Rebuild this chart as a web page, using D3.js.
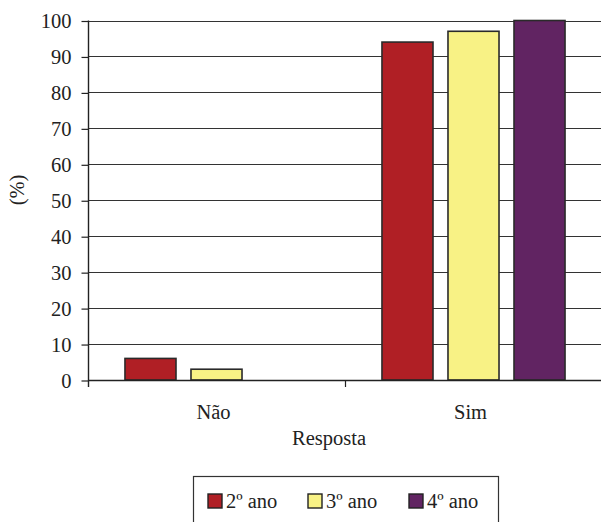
<!DOCTYPE html>
<html>
<head>
<meta charset="utf-8">
<script src="https://cdn.jsdelivr.net/npm/d3@7"></script>
<style>
  html, body { margin: 0; padding: 0; background: #fff; }
  svg { display: block; }
  svg text { font-family: "Liberation Serif", "Times New Roman", Times, serif; }
</style>
</head>
<body>
<svg id="chart" width="601" height="522" font-family="Liberation Serif" font-size="20.5"></svg>
<script>
// Respostas (%) por ano
const categories = ["Não", "Sim"];
const seriesNames = ["2º ano", "3º ano", "4º ano"];
const seriesColors = ["#B01F25", "#F8F285", "#612462"];
const values2 = [6, 94];
const values3 = [3, 97];
const values4 = [0, 100];
const yTicks = [0, 10, 20, 30, 40, 50, 60, 70, 80, 90, 100];

const seriesValues = [values2, values3, values4];
const FS = 20.5;

const svg = d3.select("#chart");
const margin = { left: 88, right: 602, top: 20.5, bottom: 380 };

const x = d3.scaleBand().domain(categories).range([margin.left, margin.right]).paddingInner(0).paddingOuter(0);
const xInner = d3.scaleBand().domain(seriesNames).range([0, x.bandwidth()]).paddingInner(0.227).paddingOuter(0.56);
const y = d3.scaleLinear().domain([0, 100]).range([margin.bottom, margin.top]);

function serif(sel) {
  return sel.attr("fill", "#222").attr("font-family", "Liberation Serif").attr("font-size", FS);
}

// Horizontal gridlines
svg.append("g")
  .selectAll("line")
  .data(yTicks)
  .join("line")
  .attr("x1", margin.left).attr("x2", 601)
  .attr("y1", d => Math.round(y(d)) + 0.5).attr("y2", d => Math.round(y(d)) + 0.5)
  .attr("stroke", "#333").attr("stroke-width", 1.2);

// Bars
const groups = svg.append("g")
  .selectAll("g")
  .data(categories)
  .join("g")
  .attr("transform", d => `translate(${x(d)},0)`);

groups.selectAll("rect")
  .data((c, ci) => seriesNames.map((s, si) => ({ s, si, v: seriesValues[si][ci] })).filter(d => d.v > 0))
  .join("rect")
  .attr("x", d => xInner(d.s))
  .attr("width", xInner.bandwidth())
  .attr("y", d => y(d.v))
  .attr("height", d => y(0) - y(d.v))
  .attr("fill", d => seriesColors[d.si])
  .attr("stroke", "#2a2a2a").attr("stroke-width", 1.6);

// Y axis
const yAxis = d3.axisLeft(y).tickValues(yTicks).tickSize(7).tickPadding(10);
const gy = svg.append("g").attr("transform", `translate(${margin.left + 0.5},0.5)`).call(yAxis)
  .attr("font-family", "Liberation Serif").attr("font-size", FS);
gy.select(".domain").remove();
gy.selectAll(".tick line").attr("stroke", "#222").attr("stroke-width", 1.2);
serif(gy.selectAll(".tick text"));
svg.append("line")
  .attr("x1", margin.left + 0.5).attr("x2", margin.left + 0.5)
  .attr("y1", margin.top).attr("y2", margin.bottom + 7)
  .attr("stroke", "#222").attr("stroke-width", 1.4);

// X axis
svg.append("line")
  .attr("x1", margin.left).attr("x2", 601)
  .attr("y1", margin.bottom + 0.5).attr("y2", margin.bottom + 0.5)
  .attr("stroke", "#222").attr("stroke-width", 1.4);
const xAxis = d3.axisBottom(x).tickSize(0).tickPadding(24);
const gx = svg.append("g").attr("transform", `translate(0,${margin.bottom})`).call(xAxis)
  .attr("font-family", "Liberation Serif").attr("font-size", FS);
gx.select(".domain").remove();
serif(gx.selectAll(".tick text")).attr("dx", -3);
// Category separators
svg.append("g")
  .selectAll("line")
  .data(categories.slice(1))
  .join("line")
  .attr("x1", d => x(d) + 0.5).attr("x2", d => x(d) + 0.5)
  .attr("y1", margin.bottom).attr("y2", margin.bottom + 7)
  .attr("stroke", "#222").attr("stroke-width", 1.2);

// Axis titles
serif(svg.append("text"))
  .attr("x", 329).attr("y", 445)
  .attr("text-anchor", "middle")
  .text("Resposta");
serif(svg.append("text"))
  .attr("transform", "translate(24,190) rotate(-90)")
  .attr("text-anchor", "middle")
  .text("(%)");

// Legend
const legend = svg.append("g");
legend.append("rect")
  .attr("x", 193.5).attr("y", 476.5).attr("width", 305).attr("height", 60)
  .attr("fill", "#fff").attr("stroke", "#333").attr("stroke-width", 1.2);
const legendX = [208, 308, 409];
const items = legend.selectAll("g")
  .data(seriesNames)
  .join("g")
  .attr("transform", (d, i) => `translate(${legendX[i]},494)`);
items.append("rect")
  .attr("width", 14).attr("height", 14)
  .attr("fill", (d, i) => seriesColors[i])
  .attr("stroke", "#222").attr("stroke-width", 1.4);
serif(items.append("text"))
  .attr("x", 18).attr("y", 14)
  .text(d => d);
</script>
</body>
</html>
